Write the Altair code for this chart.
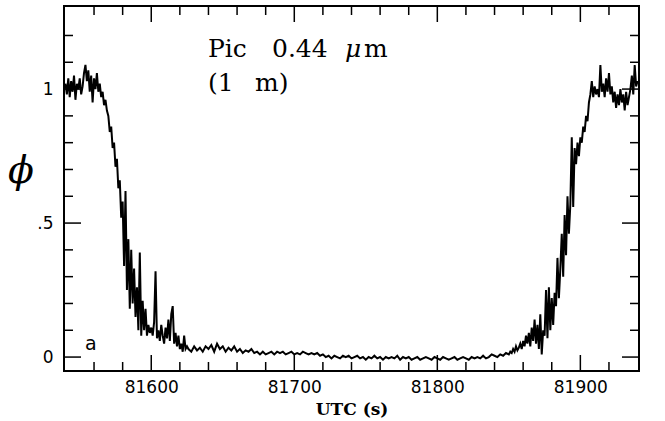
import altair as alt
import pandas as pd

# ---- light-curve samples (UTC seconds, normalised flux phi) ----
t_a = [81540, 81541, 81542, 81543, 81544, 81545, 81546, 81547, 81548, 81549,
       81550, 81551, 81552, 81553, 81554, 81555, 81556, 81557, 81558, 81559,
       81560, 81561, 81562, 81563, 81564, 81565, 81566, 81567, 81568, 81569,
       81570, 81571, 81572]
phi_a = [1.02, 0.98, 1.04, 0.97, 1.03, 0.99, 1.05, 0.96, 1.02, 1.00,
         1.04, 0.98, 1.01, 1.06, 1.09, 1.03, 1.07, 0.99, 1.05, 0.95,
         1.04, 1.00, 1.06, 0.99, 1.02, 0.97, 0.99, 0.94, 0.96, 0.92,
         0.90, 0.84, 0.86]

t_b = [81573, 81574, 81575, 81576, 81577, 81578, 81579,
       81580, 81581, 81582, 81583, 81584, 81585, 81586, 81587, 81588, 81589,
       81590, 81591, 81592, 81593, 81594, 81595, 81596, 81597, 81598, 81599,
       81600]
phi_b = [0.78, 0.80, 0.71, 0.74, 0.63, 0.66, 0.52,
         0.58, 0.34, 0.62, 0.25, 0.44, 0.18, 0.40, 0.20, 0.33, 0.15,
         0.26, 0.10, 0.39, 0.08, 0.21, 0.10, 0.18, 0.08, 0.12, 0.09,
         0.11]

t_c = [81601, 81602, 81603, 81604, 81605, 81606, 81607, 81608, 81609,
       81610, 81611, 81612, 81613, 81614, 81615, 81616, 81617, 81618, 81619,
       81620, 81621, 81622, 81623, 81624, 81625]
phi_c = [0.08, 0.13, 0.32, 0.07, 0.10, 0.06, 0.12, 0.08, 0.05,
         0.11, 0.07, 0.14, 0.06, 0.16, 0.19, 0.05, 0.09, 0.04, 0.08,
         0.03, 0.05, 0.02, 0.08, 0.03, 0.04]

t_d = [81626, 81628, 81630, 81632, 81634, 81636, 81638, 81640, 81642, 81644,
       81646, 81648, 81650, 81652, 81654, 81656, 81658, 81660, 81662, 81664,
       81666, 81668, 81670, 81672, 81674, 81676, 81678, 81680, 81682, 81684,
       81686, 81688, 81690, 81692, 81694, 81696, 81698, 81700, 81702, 81704,
       81706, 81708, 81710, 81712, 81714, 81716, 81718, 81720, 81722, 81724,
       81726, 81728, 81730, 81732, 81734, 81736, 81738, 81740, 81742, 81744,
       81746, 81748, 81750, 81752, 81754, 81756, 81758, 81760, 81762, 81764,
       81766, 81768, 81770, 81772, 81774, 81776, 81778, 81780, 81782, 81784,
       81786, 81788, 81790, 81792, 81794, 81796, 81798, 81800, 81802, 81804,
       81806, 81808, 81810, 81812, 81814, 81816, 81818, 81820, 81822, 81824,
       81826, 81828, 81830, 81832, 81834, 81836, 81838, 81840, 81842, 81844,
       81846, 81848, 81850]
phi_d = [0.03, 0.02, 0.04, 0.025, 0.035, 0.02, 0.04, 0.03, 0.045, 0.02,
         0.05, 0.03, 0.04, 0.02, 0.035, 0.025, 0.04, 0.02, 0.03, 0.015,
         0.025, 0.02, 0.03, 0.015, 0.02, 0.01, 0.02, 0.01, 0.015, 0.02,
         0.01, 0.02, 0.015, 0.02, 0.01, 0.015, 0.02, 0.01, 0.015, 0.01,
         0.02, 0.015, 0.01, 0.015, 0.01, 0.015, 0.005, 0.01, 0.0, 0.005,
         -0.005, 0.005, 0.0, -0.005, 0.005, 0.0, 0.005, -0.005, 0.0, 0.005,
         -0.005, 0.0, -0.01, 0.0, -0.005, 0.005, -0.005, 0.0, -0.01, 0.0,
         -0.005, 0.0, -0.005, 0.005, -0.01, 0.0, -0.005, 0.0, -0.01, -0.005,
         0.0, -0.01, -0.005, 0.0, -0.005, -0.01, 0.0, -0.005, -0.01, 0.0,
         -0.005, -0.01, -0.005, 0.0, -0.01, -0.005, 0.0, -0.005, -0.01, 0.0,
         -0.005, 0.0, -0.005, 0.005, -0.005, 0.0, 0.01, 0.005, 0.0, 0.01,
         0.005, 0.015, 0.01]

t_e = [81851, 81852, 81853, 81854, 81855, 81856, 81857, 81858, 81859, 81860,
       81861, 81862, 81863, 81864, 81865, 81866, 81867, 81868, 81869, 81870,
       81871, 81872, 81873, 81874, 81875, 81876, 81877, 81878, 81879, 81880,
       81881, 81882, 81883, 81884, 81885, 81886, 81887, 81888, 81889, 81890,
       81891, 81892, 81893, 81894, 81895, 81896, 81897, 81898, 81899, 81900,
       81901, 81902, 81903, 81904, 81905, 81906, 81907, 81908, 81909, 81910,
       81911, 81912, 81913, 81914, 81915, 81916, 81917, 81918, 81919, 81920,
       81921, 81922, 81923, 81924, 81925, 81926, 81927, 81928, 81929, 81930,
       81931, 81932, 81933, 81934, 81935, 81936, 81937, 81938, 81939, 81940]
phi_e = [0.02, 0.015, 0.03, 0.02, 0.04, 0.025, 0.035, 0.05, 0.03, 0.06,
         0.04, 0.08, 0.05, 0.09, 0.04, 0.11, 0.06, 0.14, 0.05, 0.12,
         0.03, 0.16, 0.01, 0.10, 0.08, 0.25, 0.07, 0.26, 0.10, 0.22,
         0.12, 0.24, 0.19, 0.37, 0.22, 0.33, 0.46, 0.30, 0.53, 0.38,
         0.60, 0.46, 0.57, 0.82, 0.56, 0.78, 0.72, 0.80, 0.75, 0.82,
         0.80, 0.86, 0.84, 0.90, 0.88, 0.95, 0.98, 1.03, 0.97, 1.01,
         0.98, 1.00, 0.97, 1.09, 0.99, 1.02, 0.97, 1.04, 0.99, 1.06,
         0.98, 1.01, 0.95, 0.99, 0.93, 0.98, 0.94, 1.00, 0.95, 0.98,
         0.92, 0.99, 0.94, 0.97, 1.00, 1.05, 0.98, 1.09, 1.01, 1.03]

# ---- axes ----
x_major = [81600, 81700, 81800, 81900]
x_minor = [81560, 81580, 81620, 81640, 81660, 81680, 81720, 81740, 81760,
           81780, 81820, 81840, 81860, 81880, 81920]
y_major = [0, 0.5, 1]
y_minor = [0.1, 0.2, 0.3, 0.4, 0.6, 0.7, 0.8, 0.9, 1.1, 1.2]
x_domain = [81539, 81941]
y_domain = [-0.052, 1.31]

# ---- texts ----
label_texts = ["Pic", "0.44", "μ", "m", "(1", "m)"]
panel_letter = "a"
y_title = "ϕ"
x_title = "UTC (s)"

W, H = 575, 365

df = pd.DataFrame({
    "t": t_a + t_b + t_c + t_d + t_e,
    "phi": phi_a + phi_b + phi_c + phi_d + phi_e,
})

xs = alt.Scale(domain=x_domain, nice=False, zero=False)
ys = alt.Scale(domain=y_domain, nice=False, zero=False)

x_axis = alt.Axis(
    values=x_major, ticks=False, domain=False, grid=False, title=None,
    labelFont="DejaVu Sans", labelFontSize=17, labelColor="black",
    labelPadding=8, format="d")
y_axis = alt.Axis(
    values=y_major, ticks=False, domain=False, grid=False, title=None,
    labelFont="DejaVu Sans", labelFontSize=17, labelColor="black",
    labelPadding=11,
    labelExpr="datum.value == 0 ? '0' : (datum.value == 1 ? '1' : '.5')")

line = alt.Chart(df).mark_line(color="black", strokeWidth=2, clip=True).encode(
    x=alt.X("t:Q", scale=xs, axis=x_axis),
    y=alt.Y("phi:Q", scale=ys, axis=y_axis),
)


def xticks(vals, length):
    d = pd.DataFrame({"t": vals})
    base = alt.Chart(d).mark_rule(color="black", strokeWidth=1.5)
    bot = base.encode(x=alt.X("t:Q", scale=xs, axis=x_axis),
                      y=alt.value(H), y2=alt.value(H - length))
    top = base.encode(x=alt.X("t:Q", scale=xs, axis=x_axis),
                      y=alt.value(0), y2=alt.value(length))
    return [bot, top]


def yticks(vals, length):
    d = pd.DataFrame({"phi": vals})
    base = alt.Chart(d).mark_rule(color="black", strokeWidth=1.5)
    left = base.encode(y=alt.Y("phi:Q", scale=ys, axis=y_axis),
                       x=alt.value(0), x2=alt.value(length))
    right = base.encode(y=alt.Y("phi:Q", scale=ys, axis=y_axis),
                        x=alt.value(W), x2=alt.value(W - length))
    return [left, right]


one = pd.DataFrame({"k": [0]})


def txt(s, x, y, size, font="DejaVu Serif", style="normal", align="left",
        baseline="alphabetic", weight="normal"):
    return alt.Chart(one).mark_text(
        text=s, font=font, fontSize=size, fontStyle=style, align=align,
        baseline=baseline, color="black", fontWeight=weight).encode(
            x=alt.value(x), y=alt.value(y))


texts = [
    txt(label_texts[0], 144, 51, 25),
    txt(label_texts[1], 208, 51, 25),
    txt(label_texts[2], 281, 51, 25, style="italic"),
    txt(label_texts[3], 300, 51, 25),
    txt(label_texts[4], 144, 85, 25),
    txt(label_texts[5], 191, 85, 25),
    txt(panel_letter, 21, 344, 19, font="DejaVu Sans"),
    txt(y_title, -43, 166, 38, style="italic", align="center", baseline="middle"),
    txt(x_title, 288, 404, 17, align="center", baseline="middle", weight="bold"),
]

layers = (xticks(x_major, 16) + xticks(x_minor, 9) +
          yticks(y_major, 17) + yticks(y_minor, 9) + [line] + texts)

chart = alt.layer(*layers).properties(
    width=W, height=H,
    autosize=alt.AutoSizeParams(type="none"),
    padding={"left": 64, "top": 6, "right": 26, "bottom": 50},
    background="white",
).configure_view(stroke="black", strokeWidth=2)

chart.save("out.html", embed_options={"renderer": "svg", "actions": False})
